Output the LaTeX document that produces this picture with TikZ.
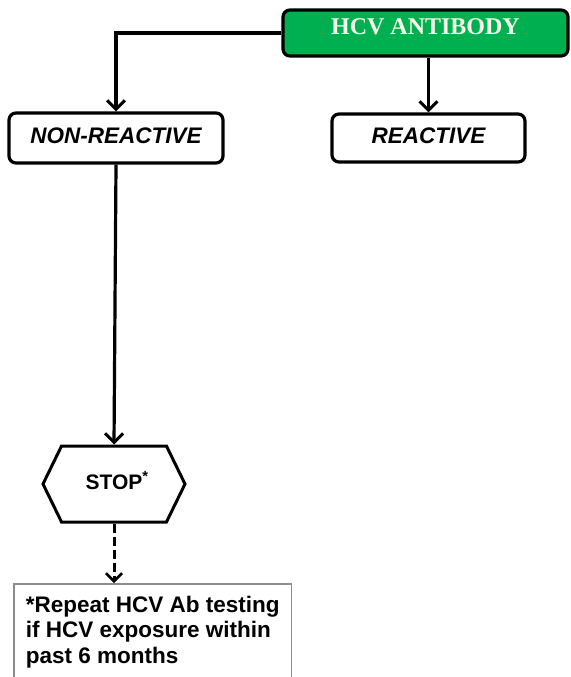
\documentclass[tikz,border=0pt]{standalone}
\usepackage{fontspec}
\setmainfont{Liberation Sans}
\newfontfamily\titlefont{Liberation Serif}
\usetikzlibrary{arrows.meta,positioning,shapes.symbols}
\definecolor{AbGreen}{RGB}{0,176,80}
\definecolor{AbCream}{RGB}{246,250,232}
\definecolor{NoteRule}{RGB}{140,140,140}

\begin{document}
\begin{tikzpicture}[
    x=1pt,y=-1pt,
    box/.style={draw,line width=3.2pt,rounded corners=7pt,fill=white,text height=16pt,text depth=6pt,font=\fontsize{22.5}{24}\selectfont\bfseries\itshape},
    headbox/.style={box,fill=AbGreen,text=AbCream,text height=16pt,text depth=12pt,font=\titlefont\fontsize{24}{26}\selectfont\bfseries},
    stopbox/.style={draw,line width=3pt,fill=white,signal,signal to=west and east,signal pointer angle=128,minimum width=142pt,minimum height=76pt,inner sep=0pt,text height=16pt,text depth=6pt,font=\fontsize{21}{24}\selectfont\bfseries},
    notebox/.style={draw=NoteRule,line width=1.6pt,align=left,inner xsep=12pt,inner ysep=12pt,font=\fontsize{22.5}{25.5}\selectfont\bfseries},
    arr/.style={-{Straight Barb[length=9pt,width=18pt,line width=3pt]},line width=3.2pt},
    dasharr/.style={-{Straight Barb[length=8pt,width=16pt,line width=2.6pt]},line width=3pt,dash pattern=on 9pt off 4pt}
  ]
    \useasboundingbox (0,0) rectangle (570,677);
    \node[headbox,minimum width=285pt,minimum height=46pt] (hcv) at (425.5,33) {HCV ANTIBODY};
    \node[box,minimum width=214pt,minimum height=50pt] (nonreact) at (116,138) {NON-REACTIVE};
    \node[box,minimum width=193pt,minimum height=48pt] (react) at (428.5,138) {REACTIVE};
    \node[stopbox] (stop) at (114,484) {STOP\rlap{\textsuperscript{*}}};
    \node[notebox,anchor=north west] (note) at (13,583) {*Repeat HCV Ab testing\\if HCV exposure within\\past 6 months};
    \draw[arr] (hcv.west) -| (nonreact.north);
    \draw[arr] (react.north |- hcv.south) -- (react.north);
    \draw[arr] (nonreact.south) -- (stop.north);
    \draw[dasharr] (stop.south) -- (stop.south |- note.north);
  \end{tikzpicture}
\end{document}
